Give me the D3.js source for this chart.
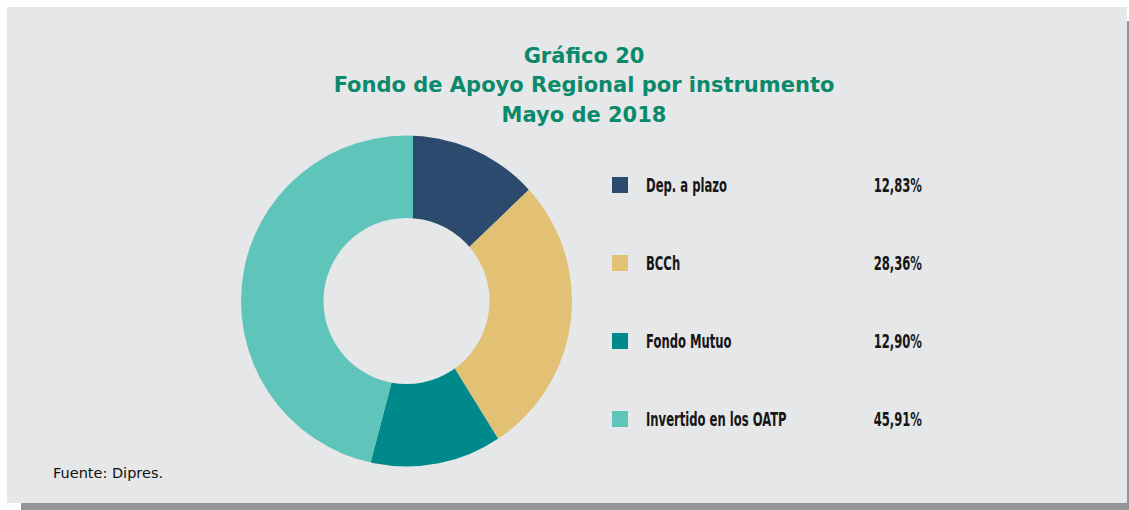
<!DOCTYPE html>
<html>
<head>
<meta charset="utf-8">
<script src="https://cdn.jsdelivr.net/npm/d3@7"></script>
<style>
  html, body { margin: 0; padding: 0; background: #fff; }
  svg { display: block; }
</style>
</head>
<body>
<div id="chart"></div>
<script>
// Data
const categories = ['Dep. a plazo', 'BCCh', 'Fondo Mutuo', 'Invertido en los OATP'];
const shares = [12.83, 28.36, 12.90, 45.91];
const shareLabels = ['12,83%', '28,36%', '12,90%', '45,91%'];
const colors = ['#2c4a6e', '#e2c074', '#00898a', '#5fc4b9'];
const titleLines = ['Gráfico 20', 'Fondo de Apoyo Regional por instrumento', 'Mayo de 2018'];
const source = 'Fuente: Dipres.';

const W = 1129, H = 510;
const svg = d3.select('#chart').append('svg').attr('width', W).attr('height', H);

// panel + shadow
svg.append('rect').attr('x', 21).attr('y', 21).attr('width', W - 21).attr('height', 489).attr('fill', '#939598');
svg.append('rect').attr('x', 7).attr('y', 7).attr('width', 1120).attr('height', 496).attr('fill', '#e6e7e8');

// Title
svg.append('g').selectAll('text').data(titleLines).join('text')
  .attr('x', 584)
  .attr('y', (d, i) => 63 + i * 29.3)
  .attr('text-anchor', 'middle')
  .attr('font-family', 'DejaVu Sans, sans-serif')
  .attr('font-weight', 'bold')
  .attr('font-size', 21)
  .attr('fill', '#0b896b')
  .text(d => d);

// Donut: the ring of the original sits a bit left of the point its slice
// edges radiate from, so slices are drawn as wedges and clipped to the ring
const cx = 406.5, cy = 301, outerR = 165.5, innerR = 83;
const hubX = 413;
const ring = d3.arc().innerRadius(innerR).outerRadius(outerR).startAngle(0).endAngle(2 * Math.PI);
svg.append('clipPath').attr('id', 'ring')
  .append('path')
  .attr('transform', `translate(${cx},${cy})`)
  .attr('d', ring());

const pie = d3.pie().sort(null).value(d => d);
const wedge = d3.arc().innerRadius(0).outerRadius(outerR + 20);
svg.append('g').attr('clip-path', 'url(#ring)')
  .append('g').attr('transform', `translate(${hubX},${cy})`)
  .selectAll('path').data(pie(shares)).join('path')
  .attr('d', wedge)
  .attr('fill', (d, i) => colors[i]);

// Legend
const legendFont = 'DejaVu Sans Condensed, DejaVu Sans, sans-serif';
const rowY = d3.scalePoint().domain(categories).range([185, 419]);
const legend = svg.append('g').selectAll('g').data(categories).join('g')
  .attr('transform', d => `translate(0,${rowY(d)})`);
legend.append('rect')
  .attr('x', 612).attr('y', -8).attr('width', 16).attr('height', 16)
  .attr('fill', (d, i) => colors[i]);
const names = legend.append('text')
  .attr('x', 646).attr('y', 6.5)
  .attr('font-family', legendFont)
  .attr('font-weight', 'bold')
  .attr('font-size', 19)
  .attr('fill', '#161616')
  .text(d => d);
const vals = legend.append('text')
  .attr('x', 922).attr('y', 6.5)
  .attr('text-anchor', 'end')
  .attr('font-family', legendFont)
  .attr('font-weight', 'bold')
  .attr('font-size', 19)
  .attr('fill', '#161616')
  .text((d, i) => shareLabels[i]);

// squeeze legend text to mimic the condensed typeface of the original
const squash = 81 / names.node().getComputedTextLength();
[names, vals].forEach(sel => sel.each(function () {
  const w = this.getComputedTextLength();
  d3.select(this).attr('textLength', w * squash).attr('lengthAdjust', 'spacingAndGlyphs');
}));

// Source
svg.append('text')
  .attr('x', 53).attr('y', 478)
  .attr('font-family', 'DejaVu Sans, sans-serif')
  .attr('font-size', 14.5)
  .attr('fill', '#111')
  .text(source);
</script>
</body>
</html>
